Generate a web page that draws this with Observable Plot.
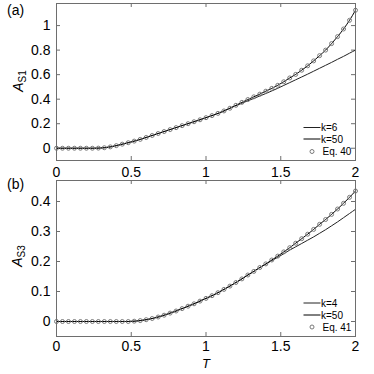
<!DOCTYPE html>
<html><head><meta charset="utf-8">
<script src="https://cdn.jsdelivr.net/npm/d3@7"></script>
<script src="https://cdn.jsdelivr.net/npm/@observablehq/plot@0.6"></script>
<style>
html,body{margin:0;padding:0;background:#fff;}
#wrap{position:relative;width:374px;height:374px;overflow:hidden;font-family:"Liberation Sans",Arial,Helvetica,sans-serif;}
#wrap > svg{position:absolute;left:0;}
</style></head>
<body><div id="wrap"></div>
<script>
// Temperature grid of the plotted points
const T = [0,0.04,0.08,0.12,0.16,0.2,0.24,0.28,0.32,0.36,0.4,0.44,0.48,0.52,0.56,0.6,0.64,0.68,0.72,0.76,0.8,0.84,0.88,0.92,0.96,1,1.04,1.08,1.12,1.16,1.2,1.24,1.28,1.32,1.36,1.4,1.44,1.48,1.52,1.56,1.6,1.64,1.68,1.72,1.76,1.8,1.84,1.88,1.92,1.96,2];

// Panel (a): A_S1
const eq40 = [0,0,0,0,0,0,0,0.001,0.004,0.011,0.021,0.033,0.045,0.058,0.072,0.088,0.104,0.12,0.136,0.152,0.168,0.184,0.2,0.216,0.232,0.249,0.266,0.284,0.304,0.326,0.35,0.374,0.397,0.419,0.441,0.465,0.488,0.513,0.542,0.573,0.602,0.636,0.672,0.712,0.755,0.8,0.853,0.91,0.972,1.043,1.125];
const k50a = [0,0,0,0,0,0,0,0.001,0.004,0.011,0.021,0.033,0.045,0.058,0.072,0.088,0.104,0.12,0.136,0.152,0.168,0.184,0.2,0.216,0.232,0.249,0.266,0.284,0.304,0.326,0.35,0.374,0.397,0.419,0.441,0.465,0.488,0.513,0.542,0.573,0.602,0.636,0.672,0.712,0.755,0.8,0.853,0.91,0.972,1.043,1.125];
const k6 = [0,0,0,0,0,0,0,0.001,0.004,0.011,0.021,0.033,0.045,0.058,0.072,0.088,0.104,0.12,0.136,0.152,0.168,0.184,0.2,0.216,0.232,0.249,0.266,0.284,0.304,0.326,0.347,0.367,0.387,0.406,0.426,0.446,0.467,0.489,0.512,0.535,0.558,0.581,0.604,0.628,0.652,0.676,0.7,0.725,0.749,0.775,0.8];

// Panel (b): A_S3
const eq41 = [0,0,0,0,0,0,0,0,0,0,0,0,0,0.001,0.003,0.006,0.01,0.015,0.021,0.028,0.035,0.043,0.051,0.059,0.068,0.077,0.086,0.096,0.107,0.118,0.13,0.142,0.155,0.167,0.18,0.192,0.205,0.218,0.232,0.246,0.261,0.276,0.291,0.307,0.324,0.34,0.357,0.375,0.394,0.414,0.435];
const k50b = [0,0,0,0,0,0,0,0,0,0,0,0,0,0.001,0.003,0.006,0.01,0.015,0.021,0.028,0.035,0.043,0.051,0.059,0.068,0.077,0.086,0.096,0.107,0.118,0.13,0.142,0.155,0.167,0.18,0.192,0.205,0.218,0.232,0.246,0.261,0.276,0.291,0.307,0.324,0.34,0.357,0.375,0.394,0.414,0.435];
const k4 = [0,0,0,0,0,0,0,0,0,0,0,0,0,0.001,0.003,0.006,0.01,0.015,0.021,0.028,0.035,0.043,0.051,0.059,0.068,0.077,0.086,0.096,0.107,0.118,0.13,0.142,0.155,0.167,0.18,0.191,0.203,0.214,0.226,0.238,0.249,0.26,0.271,0.282,0.294,0.306,0.319,0.332,0.346,0.36,0.374];

// Tick values
const xTicks = [0,0.5,1,1.5,2];
const yTicksA = [0,0.2,0.4,0.6,0.8,1];
const yTicksB = [0,0.1,0.2,0.3,0.4];
const legendA = ["k=6","k=50","Eq. 40"];
const legendB = ["k=4","k=50","Eq. 41"];

const FONT = '"Liberation Sans", Arial, Helvetica, sans-serif';
const AX = "#6e6e6e";

function panel({ydomain, yTicks, approx, fine, exact, height, mb, top, xpad}) {
  const W = 374, ml = 56, mr = 19, mt = 3;
  const iw = W - ml - mr, ih = height - mt - mb, tl = 4;
  const rows = T.map((t, i) => ({T: t, a: approx[i], f: fine[i], e: exact[i]}));
  const svg = Plot.plot({
    width: W, height, marginLeft: ml, marginRight: mr, marginTop: mt, marginBottom: mb,
    style: {fontFamily: FONT, fontSize: "14px", color: "#000", background: "transparent", overflow: "visible"},
    x: {domain: [0, 2]},
    y: {domain: ydomain},
    marks: [
      Plot.axisX({ticks: xTicks, tickSize: 0, tickPadding: xpad, tickFormat: d => String(d), label: null, fontSize: 14}),
      Plot.axisY({ticks: yTicks, tickSize: 0, tickPadding: 6, tickFormat: d => String(d), label: null, fontSize: 14}),
      Plot.tickX(xTicks, {x: d => d, insetTop: ih - tl, stroke: AX}),
      Plot.tickX(xTicks, {x: d => d, insetBottom: ih - tl, stroke: AX}),
      Plot.tickY(yTicks, {y: d => d, insetRight: iw - tl, stroke: AX}),
      Plot.tickY(yTicks, {y: d => d, insetLeft: iw - tl, stroke: AX}),
      Plot.line(rows, {x: "T", y: "a", stroke: "#222", strokeWidth: 1, curve: "monotone-x"}),
      Plot.line(rows, {x: "T", y: "f", stroke: "#000", strokeWidth: 1, curve: "monotone-x"}),
      Plot.dot(rows, {x: "T", y: "e", r: 2, stroke: "#7a7a7a", fill: "none", strokeWidth: 1}),
      Plot.frame({stroke: AX})
    ]
  });
  svg.style.top = top + "px";
  return svg;
}

const wrap = document.getElementById("wrap");
wrap.appendChild(panel({ydomain: [-0.1, 1.18], yTicks: yTicksA, approx: k6, fine: k50a, exact: eq40, height: 185, mb: 25, top: 0, xpad: 7}));
wrap.appendChild(panel({ydomain: [-0.05, 0.47], yTicks: yTicksB, approx: k4, fine: k50b, exact: eq41, height: 179, mb: 20, top: 177, xpad: 5}));

// Annotation overlay: panel letters, axis labels, legends
const ov = d3.select(wrap).append("svg")
  .attr("width", 374).attr("height", 374)
  .style("top", "0px").style("font-family", FONT);

ov.append("text").attr("x", 7).attr("y", 15).attr("font-size", 14).text("(a)");
ov.append("text").attr("x", 7).attr("y", 189).attr("font-size", 14).text("(b)");

function ylab(cx, cy, sub) {
  const t = ov.append("text").attr("transform", `translate(${cx},${cy}) rotate(-90)`)
    .attr("text-anchor", "middle").attr("font-size", 14);
  t.append("tspan").attr("font-style", "italic").text("A");
  t.append("tspan").attr("font-size", 10).attr("dy", 3).text(sub);
}
ylab(23, 81, "S1");
ylab(22, 256, "S3");

ov.append("text").attr("x", 206).attr("y", 368).attr("text-anchor", "middle")
  .attr("font-size", 13).attr("font-style", "italic").text("T");

function legend(labels, ys) {
  const strokes = ["#222", "#000"];
  labels.forEach((lab, i) => {
    if (i < 2) {
      ov.append("line").attr("x1", 303.5).attr("x2", 320.5).attr("y1", ys[i]).attr("y2", ys[i])
        .attr("stroke", strokes[i]).attr("stroke-width", 1);
    } else {
      ov.append("circle").attr("cx", 312).attr("cy", ys[i]).attr("r", 2)
        .attr("fill", "none").attr("stroke", "#7a7a7a");
    }
    ov.append("text").attr("x", i < 2 ? 321 : 322.5).attr("y", ys[i] + 3.6)
      .attr("font-size", 10).text(lab);
  });
}
legend(legendA, [127.5, 139, 151.5]);
legend(legendB, [303, 315, 327]);
</script>
</body></html>
